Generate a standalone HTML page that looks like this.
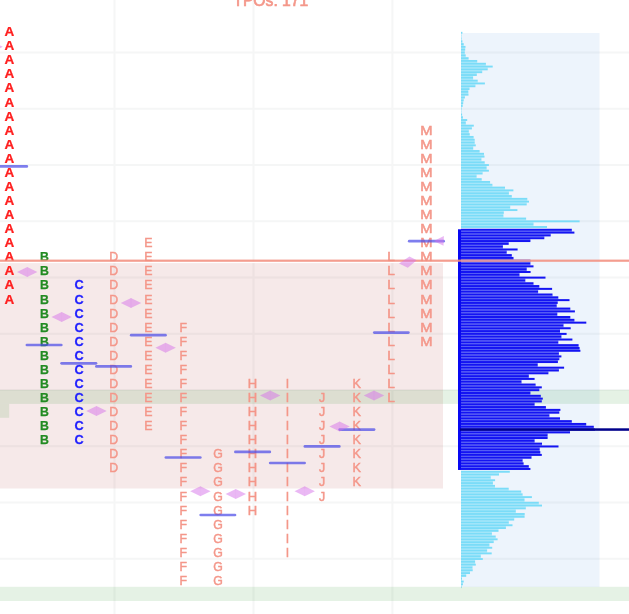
<!DOCTYPE html>
<html><head><meta charset="utf-8"><title>TPO profile</title>
<style>html,body{margin:0;padding:0;background:#fff;overflow:hidden}svg{display:block}text{font-family:"Liberation Sans",sans-serif;font-size:12.3px;text-anchor:middle}.b{font-weight:bold}</style></head><body>
<svg width="629" height="614" viewBox="0 0 629 614">
<rect width="629" height="614" fill="#fff"/>
<g stroke="#f5f6f6" stroke-width="2">
<line x1="0" x2="629" y1="52.6" y2="52.6"/>
<line x1="0" x2="629" y1="108.8" y2="108.8"/>
<line x1="0" x2="629" y1="165.1" y2="165.1"/>
<line x1="0" x2="629" y1="221.3" y2="221.3"/>
<line x1="0" x2="629" y1="277.6" y2="277.6"/>
<line x1="0" x2="629" y1="333.8" y2="333.8"/>
<line x1="0" x2="629" y1="390.0" y2="390.0"/>
<line x1="0" x2="629" y1="446.3" y2="446.3"/>
<line x1="0" x2="629" y1="502.5" y2="502.5"/>
<line x1="0" x2="629" y1="558.8" y2="558.8"/>
<line x1="0" x2="629" y1="615.0" y2="615.0"/>
<line x1="114.5" x2="114.5" y1="0" y2="614"/>
<line x1="253.5" x2="253.5" y1="0" y2="614"/>
<line x1="392.4" x2="392.4" y1="0" y2="614"/>
</g>
<text x="270.8" y="5.7" style="font-size:15.7px" fill="#f4978a" stroke="#f4978a" stroke-width="0.7">TPOs: 171</text>
<rect x="0" y="263" width="443" height="225.5" fill="rgba(165,42,42,0.1)"/>
<rect x="461" y="33" width="138.5" height="554" fill="rgba(75,150,222,0.1)"/>
<rect x="0" y="389.9" width="629" height="14" fill="rgba(0,128,0,0.1)"/>
<rect x="0" y="403.9" width="9.2" height="13.9" fill="rgba(0,128,0,0.1)"/>
<g fill="#a9e8fa">
<rect x="461" y="33.60" width="0.4" height="1.21"/>
<rect x="461" y="36.41" width="0.4" height="1.21"/>
<rect x="461" y="39.23" width="0.6" height="1.21"/>
<rect x="461" y="42.04" width="1.4" height="1.21"/>
<rect x="461" y="44.86" width="2.7" height="1.21"/>
<rect x="461" y="47.67" width="4.2" height="1.21"/>
<rect x="461" y="50.48" width="3.8" height="1.21"/>
<rect x="461" y="53.30" width="3.8" height="1.21"/>
<rect x="461" y="56.11" width="4.7" height="1.21"/>
<rect x="461" y="58.93" width="7.6" height="1.21"/>
<rect x="461" y="61.74" width="16.2" height="1.21"/>
<rect x="461" y="64.55" width="24.9" height="1.21"/>
<rect x="461" y="67.37" width="26.7" height="1.21"/>
<rect x="461" y="70.18" width="21.2" height="1.21"/>
<rect x="461" y="73.00" width="15.8" height="1.21"/>
<rect x="461" y="75.81" width="12.1" height="1.21"/>
<rect x="461" y="78.62" width="12.1" height="1.21"/>
<rect x="461" y="81.44" width="16.7" height="1.21"/>
<rect x="461" y="84.25" width="14.4" height="1.21"/>
<rect x="461" y="87.07" width="8.5" height="1.21"/>
<rect x="461" y="89.88" width="7.3" height="1.21"/>
<rect x="461" y="92.69" width="7.3" height="1.21"/>
<rect x="461" y="95.51" width="3.9" height="1.21"/>
<rect x="461" y="98.32" width="2.7" height="1.21"/>
<rect x="461" y="101.14" width="2.2" height="1.21"/>
<rect x="461" y="103.95" width="1.7" height="1.21"/>
<rect x="461" y="106.76" width="0.6" height="1.21"/>
<rect x="461" y="109.58" width="0.4" height="1.21"/>
<rect x="461" y="112.39" width="0.4" height="1.21"/>
<rect x="461" y="115.21" width="1.1" height="1.21"/>
<rect x="461" y="118.02" width="1.9" height="1.21"/>
<rect x="461" y="120.83" width="4.8" height="1.21"/>
<rect x="461" y="123.65" width="4.8" height="1.21"/>
<rect x="461" y="126.46" width="10.9" height="1.21"/>
<rect x="461" y="129.28" width="7.8" height="1.21"/>
<rect x="461" y="132.09" width="7.8" height="1.21"/>
<rect x="461" y="134.90" width="8.7" height="1.21"/>
<rect x="461" y="137.72" width="12.6" height="1.21"/>
<rect x="461" y="140.53" width="13.7" height="1.21"/>
<rect x="461" y="143.35" width="13.7" height="1.21"/>
<rect x="461" y="146.16" width="12.2" height="1.21"/>
<rect x="461" y="148.97" width="12.2" height="1.21"/>
<rect x="461" y="151.79" width="18.6" height="1.21"/>
<rect x="461" y="154.60" width="23.0" height="1.21"/>
<rect x="461" y="157.42" width="20.4" height="1.21"/>
<rect x="461" y="160.23" width="20.4" height="1.21"/>
<rect x="461" y="163.04" width="23.7" height="1.21"/>
<rect x="461" y="165.86" width="25.6" height="1.21"/>
<rect x="461" y="168.67" width="25.6" height="1.21"/>
<rect x="461" y="171.49" width="21.6" height="1.21"/>
<rect x="461" y="174.30" width="15.6" height="1.21"/>
<rect x="461" y="177.11" width="15.6" height="1.21"/>
<rect x="461" y="179.93" width="20.7" height="1.21"/>
<rect x="461" y="182.74" width="29.1" height="1.21"/>
<rect x="461" y="185.56" width="31.4" height="1.21"/>
<rect x="461" y="188.37" width="44.0" height="1.21"/>
<rect x="461" y="191.18" width="47.9" height="1.21"/>
<rect x="461" y="194.00" width="47.9" height="1.21"/>
<rect x="461" y="196.81" width="50.8" height="1.21"/>
<rect x="461" y="199.63" width="66.3" height="1.21"/>
<rect x="461" y="202.44" width="65.7" height="1.21"/>
<rect x="461" y="205.25" width="49.2" height="1.21"/>
<rect x="461" y="208.07" width="49.2" height="1.21"/>
<rect x="461" y="210.88" width="42.8" height="1.21"/>
<rect x="461" y="213.70" width="42.4" height="1.21"/>
<rect x="461" y="216.51" width="42.4" height="1.21"/>
<rect x="461" y="219.32" width="65.1" height="1.21"/>
<rect x="461" y="222.14" width="72.5" height="1.21"/>
<rect x="461" y="224.95" width="72.5" height="1.21"/>
<rect x="461" y="472.58" width="38.0" height="1.21"/>
<rect x="461" y="475.40" width="29.7" height="1.21"/>
<rect x="461" y="478.21" width="29.7" height="1.21"/>
<rect x="461" y="481.03" width="31.9" height="1.21"/>
<rect x="461" y="483.84" width="31.9" height="1.21"/>
<rect x="461" y="486.65" width="34.0" height="1.21"/>
<rect x="461" y="489.47" width="47.7" height="1.21"/>
<rect x="461" y="492.28" width="60.2" height="1.21"/>
<rect x="461" y="495.10" width="61.6" height="1.21"/>
<rect x="461" y="497.91" width="63.5" height="1.21"/>
<rect x="461" y="500.72" width="63.5" height="1.21"/>
<rect x="461" y="503.54" width="77.8" height="1.21"/>
<rect x="461" y="506.35" width="64.8" height="1.21"/>
<rect x="461" y="509.17" width="54.8" height="1.21"/>
<rect x="461" y="511.98" width="54.8" height="1.21"/>
<rect x="461" y="514.79" width="63.6" height="1.21"/>
<rect x="461" y="517.61" width="53.2" height="1.21"/>
<rect x="461" y="520.42" width="47.8" height="1.21"/>
<rect x="461" y="523.24" width="47.8" height="1.21"/>
<rect x="461" y="526.05" width="44.9" height="1.21"/>
<rect x="461" y="528.86" width="37.5" height="1.21"/>
<rect x="461" y="531.68" width="30.9" height="1.21"/>
<rect x="461" y="534.49" width="30.9" height="1.21"/>
<rect x="461" y="537.31" width="34.7" height="1.21"/>
<rect x="461" y="540.12" width="32.7" height="1.21"/>
<rect x="461" y="542.93" width="28.4" height="1.21"/>
<rect x="461" y="545.75" width="28.4" height="1.21"/>
<rect x="461" y="548.56" width="26.1" height="1.21"/>
<rect x="461" y="551.38" width="26.1" height="1.21"/>
<rect x="461" y="554.19" width="19.8" height="1.21"/>
<rect x="461" y="557.00" width="19.8" height="1.21"/>
<rect x="461" y="559.82" width="14.1" height="1.21"/>
<rect x="461" y="562.63" width="14.1" height="1.21"/>
<rect x="461" y="565.45" width="11.5" height="1.21"/>
<rect x="461" y="568.26" width="11.5" height="1.21"/>
<rect x="461" y="571.07" width="9.0" height="1.21"/>
<rect x="461" y="573.89" width="5.2" height="1.21"/>
<rect x="461" y="576.70" width="1.0" height="1.21"/>
<rect x="461" y="579.52" width="1.0" height="1.21"/>
<rect x="461" y="582.33" width="1.9" height="1.21"/>
<rect x="461" y="585.14" width="0.6" height="1.21"/>
</g>
<g fill="#7adcf8">
<rect x="461" y="31.85" width="1.4" height="1.9"/>
<rect x="461" y="34.66" width="0.4" height="1.9"/>
<rect x="461" y="37.48" width="0.6" height="1.9"/>
<rect x="461" y="40.29" width="1.4" height="1.9"/>
<rect x="461" y="43.11" width="2.7" height="1.9"/>
<rect x="461" y="45.92" width="4.5" height="1.9"/>
<rect x="461" y="48.73" width="4.2" height="1.9"/>
<rect x="461" y="51.55" width="3.8" height="1.9"/>
<rect x="461" y="54.36" width="4.7" height="1.9"/>
<rect x="461" y="57.18" width="7.6" height="1.9"/>
<rect x="461" y="59.99" width="16.2" height="1.9"/>
<rect x="461" y="62.80" width="24.9" height="1.9"/>
<rect x="461" y="65.62" width="31.7" height="1.9"/>
<rect x="461" y="68.43" width="26.7" height="1.9"/>
<rect x="461" y="71.25" width="21.2" height="1.9"/>
<rect x="461" y="74.06" width="15.8" height="1.9"/>
<rect x="461" y="76.87" width="12.1" height="1.9"/>
<rect x="461" y="79.69" width="16.7" height="1.9"/>
<rect x="461" y="82.50" width="23.9" height="1.9"/>
<rect x="461" y="85.32" width="14.4" height="1.9"/>
<rect x="461" y="88.13" width="8.5" height="1.9"/>
<rect x="461" y="90.94" width="7.3" height="1.9"/>
<rect x="461" y="93.76" width="7.5" height="1.9"/>
<rect x="461" y="96.57" width="3.9" height="1.9"/>
<rect x="461" y="99.39" width="2.7" height="1.9"/>
<rect x="461" y="102.20" width="2.2" height="1.9"/>
<rect x="461" y="105.01" width="1.7" height="1.9"/>
<rect x="461" y="107.83" width="0.6" height="1.9"/>
<rect x="461" y="110.64" width="0.4" height="1.9"/>
<rect x="461" y="113.46" width="1.1" height="1.9"/>
<rect x="461" y="116.27" width="1.9" height="1.9"/>
<rect x="461" y="119.08" width="6.2" height="1.9"/>
<rect x="461" y="121.90" width="4.8" height="1.9"/>
<rect x="461" y="124.71" width="12.8" height="1.9"/>
<rect x="461" y="127.53" width="10.9" height="1.9"/>
<rect x="461" y="130.34" width="7.8" height="1.9"/>
<rect x="461" y="133.15" width="8.7" height="1.9"/>
<rect x="461" y="135.97" width="12.6" height="1.9"/>
<rect x="461" y="138.78" width="13.7" height="1.9"/>
<rect x="461" y="141.60" width="13.7" height="1.9"/>
<rect x="461" y="144.41" width="14.8" height="1.9"/>
<rect x="461" y="147.22" width="12.2" height="1.9"/>
<rect x="461" y="150.04" width="18.6" height="1.9"/>
<rect x="461" y="152.85" width="23.0" height="1.9"/>
<rect x="461" y="155.67" width="23.5" height="1.9"/>
<rect x="461" y="158.48" width="20.4" height="1.9"/>
<rect x="461" y="161.29" width="23.7" height="1.9"/>
<rect x="461" y="164.11" width="27.9" height="1.9"/>
<rect x="461" y="166.92" width="25.6" height="1.9"/>
<rect x="461" y="169.74" width="27.9" height="1.9"/>
<rect x="461" y="172.55" width="21.6" height="1.9"/>
<rect x="461" y="175.36" width="15.6" height="1.9"/>
<rect x="461" y="178.18" width="20.7" height="1.9"/>
<rect x="461" y="180.99" width="29.1" height="1.9"/>
<rect x="461" y="183.81" width="31.4" height="1.9"/>
<rect x="461" y="186.62" width="44.0" height="1.9"/>
<rect x="461" y="189.43" width="52.4" height="1.9"/>
<rect x="461" y="192.25" width="47.9" height="1.9"/>
<rect x="461" y="195.06" width="50.8" height="1.9"/>
<rect x="461" y="197.88" width="66.3" height="1.9"/>
<rect x="461" y="200.69" width="68.0" height="1.9"/>
<rect x="461" y="203.50" width="65.7" height="1.9"/>
<rect x="461" y="206.32" width="49.2" height="1.9"/>
<rect x="461" y="209.13" width="56.4" height="1.9"/>
<rect x="461" y="211.95" width="42.8" height="1.9"/>
<rect x="461" y="214.76" width="42.4" height="1.9"/>
<rect x="461" y="217.57" width="65.1" height="1.9"/>
<rect x="461" y="220.39" width="118.6" height="1.9"/>
<rect x="461" y="223.20" width="72.5" height="1.9"/>
<rect x="461" y="226.02" width="86.0" height="1.9"/>
<rect x="461" y="470.83" width="48.8" height="1.9"/>
<rect x="461" y="473.65" width="38.0" height="1.9"/>
<rect x="461" y="476.46" width="29.7" height="1.9"/>
<rect x="461" y="479.28" width="34.1" height="1.9"/>
<rect x="461" y="482.09" width="31.9" height="1.9"/>
<rect x="461" y="484.90" width="34.0" height="1.9"/>
<rect x="461" y="487.72" width="47.7" height="1.9"/>
<rect x="461" y="490.53" width="60.2" height="1.9"/>
<rect x="461" y="493.35" width="61.6" height="1.9"/>
<rect x="461" y="496.16" width="70.9" height="1.9"/>
<rect x="461" y="498.97" width="63.5" height="1.9"/>
<rect x="461" y="501.79" width="77.8" height="1.9"/>
<rect x="461" y="504.60" width="81.0" height="1.9"/>
<rect x="461" y="507.42" width="64.8" height="1.9"/>
<rect x="461" y="510.23" width="54.8" height="1.9"/>
<rect x="461" y="513.04" width="63.7" height="1.9"/>
<rect x="461" y="515.86" width="63.6" height="1.9"/>
<rect x="461" y="518.67" width="53.2" height="1.9"/>
<rect x="461" y="521.49" width="47.8" height="1.9"/>
<rect x="461" y="524.30" width="51.5" height="1.9"/>
<rect x="461" y="527.11" width="44.9" height="1.9"/>
<rect x="461" y="529.93" width="37.5" height="1.9"/>
<rect x="461" y="532.74" width="30.9" height="1.9"/>
<rect x="461" y="535.56" width="34.7" height="1.9"/>
<rect x="461" y="538.37" width="36.6" height="1.9"/>
<rect x="461" y="541.18" width="32.7" height="1.9"/>
<rect x="461" y="544.00" width="28.4" height="1.9"/>
<rect x="461" y="546.81" width="31.2" height="1.9"/>
<rect x="461" y="549.63" width="26.1" height="1.9"/>
<rect x="461" y="552.44" width="30.7" height="1.9"/>
<rect x="461" y="555.25" width="19.8" height="1.9"/>
<rect x="461" y="558.07" width="21.8" height="1.9"/>
<rect x="461" y="560.88" width="14.1" height="1.9"/>
<rect x="461" y="563.70" width="14.8" height="1.9"/>
<rect x="461" y="566.51" width="11.5" height="1.9"/>
<rect x="461" y="569.32" width="11.7" height="1.9"/>
<rect x="461" y="572.14" width="9.0" height="1.9"/>
<rect x="461" y="574.95" width="5.2" height="1.9"/>
<rect x="461" y="577.77" width="1.0" height="1.9"/>
<rect x="461" y="580.58" width="2.7" height="1.9"/>
<rect x="461" y="583.39" width="1.9" height="1.9"/>
<rect x="461" y="586.21" width="0.6" height="1.9"/>
</g>
<rect x="458" y="229.28" width="3.1" height="240.69" fill="#0808f2"/>
<g fill="#6470f6">
<rect x="461" y="230.58" width="110.8" height="1.21"/>
<rect x="461" y="233.39" width="89.7" height="1.21"/>
<rect x="461" y="236.21" width="83.3" height="1.21"/>
<rect x="461" y="239.02" width="69.4" height="1.21"/>
<rect x="461" y="241.84" width="47.7" height="1.21"/>
<rect x="461" y="244.65" width="41.9" height="1.21"/>
<rect x="461" y="247.46" width="41.9" height="1.21"/>
<rect x="461" y="250.28" width="45.7" height="1.21"/>
<rect x="461" y="253.09" width="45.7" height="1.21"/>
<rect x="461" y="255.91" width="50.8" height="1.21"/>
<rect x="461" y="258.72" width="52.5" height="1.21"/>
<rect x="461" y="261.53" width="69.4" height="1.21"/>
<rect x="461" y="264.35" width="69.4" height="1.21"/>
<rect x="461" y="267.16" width="65.7" height="1.21"/>
<rect x="461" y="269.98" width="65.7" height="1.21"/>
<rect x="461" y="272.79" width="58.5" height="1.21"/>
<rect x="461" y="275.60" width="58.5" height="1.21"/>
<rect x="461" y="278.42" width="64.3" height="1.21"/>
<rect x="461" y="281.23" width="64.3" height="1.21"/>
<rect x="461" y="284.05" width="72.5" height="1.21"/>
<rect x="461" y="286.86" width="78.3" height="1.21"/>
<rect x="461" y="289.67" width="77.1" height="1.21"/>
<rect x="461" y="292.49" width="77.1" height="1.21"/>
<rect x="461" y="295.30" width="91.5" height="1.21"/>
<rect x="461" y="298.12" width="97.3" height="1.21"/>
<rect x="461" y="300.93" width="96.7" height="1.21"/>
<rect x="461" y="303.74" width="95.7" height="1.21"/>
<rect x="461" y="306.56" width="95.7" height="1.21"/>
<rect x="461" y="309.37" width="109.3" height="1.21"/>
<rect x="461" y="312.19" width="96.3" height="1.21"/>
<rect x="461" y="315.00" width="96.3" height="1.21"/>
<rect x="461" y="317.81" width="109.3" height="1.21"/>
<rect x="461" y="320.63" width="113.4" height="1.21"/>
<rect x="461" y="323.44" width="102.5" height="1.21"/>
<rect x="461" y="326.26" width="102.5" height="1.21"/>
<rect x="461" y="329.07" width="99.0" height="1.21"/>
<rect x="461" y="331.88" width="99.0" height="1.21"/>
<rect x="461" y="334.70" width="100.4" height="1.21"/>
<rect x="461" y="337.51" width="100.4" height="1.21"/>
<rect x="461" y="340.33" width="97.3" height="1.21"/>
<rect x="461" y="343.14" width="97.3" height="1.21"/>
<rect x="461" y="345.95" width="117.6" height="1.21"/>
<rect x="461" y="348.77" width="118.6" height="1.21"/>
<rect x="461" y="351.58" width="97.9" height="1.21"/>
<rect x="461" y="354.40" width="97.9" height="1.21"/>
<rect x="461" y="357.21" width="98.3" height="1.21"/>
<rect x="461" y="360.02" width="96.9" height="1.21"/>
<rect x="461" y="362.84" width="76.7" height="1.21"/>
<rect x="461" y="365.65" width="76.7" height="1.21"/>
<rect x="461" y="368.47" width="97.9" height="1.21"/>
<rect x="461" y="371.28" width="87.4" height="1.21"/>
<rect x="461" y="374.09" width="67.8" height="1.21"/>
<rect x="461" y="376.91" width="67.8" height="1.21"/>
<rect x="461" y="379.72" width="60.5" height="1.21"/>
<rect x="461" y="382.54" width="60.5" height="1.21"/>
<rect x="461" y="385.35" width="74.6" height="1.21"/>
<rect x="461" y="388.16" width="78.3" height="1.21"/>
<rect x="461" y="390.98" width="69.4" height="1.21"/>
<rect x="461" y="393.79" width="69.4" height="1.21"/>
<rect x="461" y="396.61" width="79.8" height="1.21"/>
<rect x="461" y="399.42" width="80.8" height="1.21"/>
<rect x="461" y="402.23" width="73.6" height="1.21"/>
<rect x="461" y="405.05" width="73.6" height="1.21"/>
<rect x="461" y="407.86" width="84.9" height="1.21"/>
<rect x="461" y="410.68" width="98.3" height="1.21"/>
<rect x="461" y="413.49" width="88.4" height="1.21"/>
<rect x="461" y="416.30" width="88.4" height="1.21"/>
<rect x="461" y="419.12" width="99.0" height="1.21"/>
<rect x="461" y="421.93" width="110.8" height="1.21"/>
<rect x="461" y="424.75" width="125.2" height="1.21"/>
<rect x="461" y="427.56" width="132.8" height="1.21"/>
<rect x="461" y="430.37" width="109.0" height="1.21"/>
<rect x="461" y="433.19" width="86.6" height="1.21"/>
<rect x="461" y="436.00" width="86.6" height="1.21"/>
<rect x="461" y="438.82" width="73.6" height="1.21"/>
<rect x="461" y="441.63" width="73.6" height="1.21"/>
<rect x="461" y="444.44" width="81.0" height="1.21"/>
<rect x="461" y="447.26" width="78.7" height="1.21"/>
<rect x="461" y="450.07" width="78.7" height="1.21"/>
<rect x="461" y="452.89" width="79.3" height="1.21"/>
<rect x="461" y="455.70" width="70.5" height="1.21"/>
<rect x="461" y="458.51" width="61.6" height="1.21"/>
<rect x="461" y="461.33" width="61.6" height="1.21"/>
<rect x="461" y="464.14" width="62.6" height="1.21"/>
<rect x="461" y="466.96" width="67.8" height="1.21"/>
</g>
<g fill="#1414f2">
<rect x="461" y="228.78" width="110.8" height="2.0"/>
<rect x="461" y="231.59" width="113.4" height="2.0"/>
<rect x="461" y="234.41" width="89.7" height="2.0"/>
<rect x="461" y="237.22" width="83.3" height="2.0"/>
<rect x="461" y="240.04" width="69.4" height="2.0"/>
<rect x="461" y="242.85" width="47.7" height="2.0"/>
<rect x="461" y="245.66" width="41.9" height="2.0"/>
<rect x="461" y="248.48" width="56.6" height="2.0"/>
<rect x="461" y="251.29" width="45.7" height="2.0"/>
<rect x="461" y="254.11" width="50.8" height="2.0"/>
<rect x="461" y="256.92" width="52.5" height="2.0"/>
<rect x="461" y="259.73" width="69.4" height="2.0"/>
<rect x="461" y="262.55" width="69.4" height="2.0"/>
<rect x="461" y="265.36" width="72.5" height="2.0"/>
<rect x="461" y="268.18" width="65.7" height="2.0"/>
<rect x="461" y="270.99" width="69.6" height="2.0"/>
<rect x="461" y="273.80" width="58.5" height="2.0"/>
<rect x="461" y="276.62" width="84.5" height="2.0"/>
<rect x="461" y="279.43" width="64.3" height="2.0"/>
<rect x="461" y="282.25" width="72.5" height="2.0"/>
<rect x="461" y="285.06" width="78.3" height="2.0"/>
<rect x="461" y="287.87" width="91.1" height="2.0"/>
<rect x="461" y="290.69" width="77.1" height="2.0"/>
<rect x="461" y="293.50" width="91.5" height="2.0"/>
<rect x="461" y="296.32" width="97.3" height="2.0"/>
<rect x="461" y="299.13" width="108.5" height="2.0"/>
<rect x="461" y="301.94" width="96.7" height="2.0"/>
<rect x="461" y="304.76" width="95.7" height="2.0"/>
<rect x="461" y="307.57" width="109.3" height="2.0"/>
<rect x="461" y="310.39" width="113.9" height="2.0"/>
<rect x="461" y="313.20" width="96.3" height="2.0"/>
<rect x="461" y="316.01" width="109.3" height="2.0"/>
<rect x="461" y="318.83" width="113.4" height="2.0"/>
<rect x="461" y="321.64" width="125.3" height="2.0"/>
<rect x="461" y="324.46" width="102.5" height="2.0"/>
<rect x="461" y="327.27" width="109.7" height="2.0"/>
<rect x="461" y="330.08" width="99.0" height="2.0"/>
<rect x="461" y="332.90" width="105.6" height="2.0"/>
<rect x="461" y="335.71" width="100.4" height="2.0"/>
<rect x="461" y="338.53" width="111.4" height="2.0"/>
<rect x="461" y="341.34" width="97.3" height="2.0"/>
<rect x="461" y="344.15" width="117.6" height="2.0"/>
<rect x="461" y="346.97" width="118.6" height="2.0"/>
<rect x="461" y="349.78" width="119.4" height="2.0"/>
<rect x="461" y="352.60" width="97.9" height="2.0"/>
<rect x="461" y="355.41" width="100.4" height="2.0"/>
<rect x="461" y="358.22" width="98.3" height="2.0"/>
<rect x="461" y="361.04" width="96.9" height="2.0"/>
<rect x="461" y="363.85" width="76.7" height="2.0"/>
<rect x="461" y="366.67" width="103.1" height="2.0"/>
<rect x="461" y="369.48" width="97.9" height="2.0"/>
<rect x="461" y="372.29" width="87.4" height="2.0"/>
<rect x="461" y="375.11" width="67.8" height="2.0"/>
<rect x="461" y="377.92" width="73.6" height="2.0"/>
<rect x="461" y="380.74" width="60.5" height="2.0"/>
<rect x="461" y="383.55" width="74.6" height="2.0"/>
<rect x="461" y="386.36" width="80.8" height="2.0"/>
<rect x="461" y="389.18" width="78.3" height="2.0"/>
<rect x="461" y="391.99" width="69.4" height="2.0"/>
<rect x="461" y="394.81" width="79.8" height="2.0"/>
<rect x="461" y="397.62" width="81.8" height="2.0"/>
<rect x="461" y="400.43" width="80.8" height="2.0"/>
<rect x="461" y="403.25" width="73.6" height="2.0"/>
<rect x="461" y="406.06" width="84.9" height="2.0"/>
<rect x="461" y="408.88" width="99.4" height="2.0"/>
<rect x="461" y="411.69" width="98.3" height="2.0"/>
<rect x="461" y="414.50" width="88.4" height="2.0"/>
<rect x="461" y="417.32" width="99.0" height="2.0"/>
<rect x="461" y="420.13" width="110.8" height="2.0"/>
<rect x="461" y="422.95" width="125.2" height="2.0"/>
<rect x="461" y="425.76" width="132.8" height="2.0"/>
<rect x="461" y="428.57" width="134.0" height="2.0"/>
<rect x="461" y="431.39" width="109.0" height="2.0"/>
<rect x="461" y="434.20" width="86.6" height="2.0"/>
<rect x="461" y="437.02" width="86.6" height="2.0"/>
<rect x="461" y="439.83" width="73.6" height="2.0"/>
<rect x="461" y="442.64" width="81.0" height="2.0"/>
<rect x="461" y="445.46" width="97.5" height="2.0"/>
<rect x="461" y="448.27" width="78.7" height="2.0"/>
<rect x="461" y="451.09" width="79.3" height="2.0"/>
<rect x="461" y="453.90" width="80.8" height="2.0"/>
<rect x="461" y="456.71" width="70.5" height="2.0"/>
<rect x="461" y="459.53" width="61.6" height="2.0"/>
<rect x="461" y="462.34" width="62.6" height="2.0"/>
<rect x="461" y="465.16" width="67.8" height="2.0"/>
<rect x="461" y="467.97" width="69.4" height="2.0"/>
</g>
<rect x="460" y="428.3" width="169" height="2.5" fill="#00008b"/>
<rect x="0" y="586.8" width="629" height="14.2" fill="rgba(0,128,0,0.1)"/>
<g fill="#ff1e1e" class="b" stroke="#ff1e1e" stroke-width="0.25" transform="translate(9.40,0) scale(1.1,1)">
<text x="0" y="36.20">A</text>
<text x="0" y="50.27">A</text>
<text x="0" y="64.34">A</text>
<text x="0" y="78.41">A</text>
<text x="0" y="92.48">A</text>
<text x="0" y="106.55">A</text>
<text x="0" y="120.62">A</text>
<text x="0" y="134.69">A</text>
<text x="0" y="148.76">A</text>
<text x="0" y="162.83">A</text>
<text x="0" y="176.90">A</text>
<text x="0" y="190.97">A</text>
<text x="0" y="205.04">A</text>
<text x="0" y="219.11">A</text>
<text x="0" y="233.18">A</text>
<text x="0" y="247.25">A</text>
<text x="0" y="261.32">A</text>
<text x="0" y="275.39">A</text>
<text x="0" y="289.46">A</text>
<text x="0" y="303.53">A</text>
</g>
<g fill="#228b22" class="b" stroke="#228b22" stroke-width="0.25" transform="translate(44.50,0) scale(1.0,1)">
<text x="0" y="261.32">B</text>
<text x="0" y="275.39">B</text>
<text x="0" y="289.46">B</text>
<text x="0" y="303.53">B</text>
<text x="0" y="317.60">B</text>
<text x="0" y="331.67">B</text>
<text x="0" y="345.74">B</text>
<text x="0" y="359.81">B</text>
<text x="0" y="373.88">B</text>
<text x="0" y="387.95">B</text>
<text x="0" y="402.02">B</text>
<text x="0" y="416.09">B</text>
<text x="0" y="430.16">B</text>
<text x="0" y="444.23">B</text>
</g>
<g fill="#1f1fff" class="b" stroke="#1f1fff" stroke-width="0.25" transform="translate(79.05,0) scale(1.04,1)">
<text x="0" y="289.46">C</text>
<text x="0" y="303.53">C</text>
<text x="0" y="317.60">C</text>
<text x="0" y="331.67">C</text>
<text x="0" y="345.74">C</text>
<text x="0" y="359.81">C</text>
<text x="0" y="373.88">C</text>
<text x="0" y="387.95">C</text>
<text x="0" y="402.02">C</text>
<text x="0" y="416.09">C</text>
<text x="0" y="430.16">C</text>
<text x="0" y="444.23">C</text>
</g>
<g fill="#f4978a" stroke="#f4978a" stroke-width="0.45" transform="translate(113.70,0) scale(1.0,1)">
<text x="0" y="261.32">D</text>
<text x="0" y="275.39">D</text>
<text x="0" y="289.46">D</text>
<text x="0" y="303.53">D</text>
<text x="0" y="317.60">D</text>
<text x="0" y="331.67">D</text>
<text x="0" y="345.74">D</text>
<text x="0" y="359.81">D</text>
<text x="0" y="373.88">D</text>
<text x="0" y="387.95">D</text>
<text x="0" y="402.02">D</text>
<text x="0" y="416.09">D</text>
<text x="0" y="430.16">D</text>
<text x="0" y="444.23">D</text>
<text x="0" y="458.30">D</text>
<text x="0" y="472.37">D</text>
</g>
<g fill="#f4978a" stroke="#f4978a" stroke-width="0.45" transform="translate(148.45,0) scale(1.0,1)">
<text x="0" y="247.25">E</text>
<text x="0" y="261.32">E</text>
<text x="0" y="275.39">E</text>
<text x="0" y="289.46">E</text>
<text x="0" y="303.53">E</text>
<text x="0" y="317.60">E</text>
<text x="0" y="331.67">E</text>
<text x="0" y="345.74">E</text>
<text x="0" y="359.81">E</text>
<text x="0" y="373.88">E</text>
<text x="0" y="387.95">E</text>
<text x="0" y="402.02">E</text>
<text x="0" y="416.09">E</text>
<text x="0" y="430.16">E</text>
</g>
<g fill="#f4978a" stroke="#f4978a" stroke-width="0.45" transform="translate(183.20,0) scale(1.0,1)">
<text x="0" y="331.67">F</text>
<text x="0" y="345.74">F</text>
<text x="0" y="359.81">F</text>
<text x="0" y="373.88">F</text>
<text x="0" y="387.95">F</text>
<text x="0" y="402.02">F</text>
<text x="0" y="416.09">F</text>
<text x="0" y="430.16">F</text>
<text x="0" y="444.23">F</text>
<text x="0" y="458.30">F</text>
<text x="0" y="472.37">F</text>
<text x="0" y="486.44">F</text>
<text x="0" y="500.51">F</text>
<text x="0" y="514.58">F</text>
<text x="0" y="528.65">F</text>
<text x="0" y="542.72">F</text>
<text x="0" y="556.79">F</text>
<text x="0" y="570.86">F</text>
<text x="0" y="584.93">F</text>
</g>
<g fill="#f4978a" stroke="#f4978a" stroke-width="0.45" transform="translate(217.95,0) scale(1.0,1)">
<text x="0" y="458.30">G</text>
<text x="0" y="472.37">G</text>
<text x="0" y="486.44">G</text>
<text x="0" y="500.51">G</text>
<text x="0" y="514.58">G</text>
<text x="0" y="528.65">G</text>
<text x="0" y="542.72">G</text>
<text x="0" y="556.79">G</text>
<text x="0" y="570.86">G</text>
<text x="0" y="584.93">G</text>
</g>
<g fill="#f4978a" stroke="#f4978a" stroke-width="0.45" transform="translate(252.50,0) scale(1.06,1)">
<text x="0" y="387.95">H</text>
<text x="0" y="402.02">H</text>
<text x="0" y="416.09">H</text>
<text x="0" y="430.16">H</text>
<text x="0" y="444.23">H</text>
<text x="0" y="458.30">H</text>
<text x="0" y="472.37">H</text>
<text x="0" y="486.44">H</text>
<text x="0" y="500.51">H</text>
<text x="0" y="514.58">H</text>
</g>
<g fill="#f4978a" stroke="#f4978a" stroke-width="0.45" transform="translate(287.45,0) scale(1.0,1)">
<text x="0" y="387.95">I</text>
<text x="0" y="402.02">I</text>
<text x="0" y="416.09">I</text>
<text x="0" y="430.16">I</text>
<text x="0" y="444.23">I</text>
<text x="0" y="458.30">I</text>
<text x="0" y="472.37">I</text>
<text x="0" y="486.44">I</text>
<text x="0" y="500.51">I</text>
<text x="0" y="514.58">I</text>
<text x="0" y="528.65">I</text>
<text x="0" y="542.72">I</text>
<text x="0" y="556.79">I</text>
</g>
<g fill="#f4978a" stroke="#f4978a" stroke-width="0.45" transform="translate(322.20,0) scale(1.0,1)">
<text x="0" y="402.02">J</text>
<text x="0" y="416.09">J</text>
<text x="0" y="430.16">J</text>
<text x="0" y="444.23">J</text>
<text x="0" y="458.30">J</text>
<text x="0" y="472.37">J</text>
<text x="0" y="486.44">J</text>
<text x="0" y="500.51">J</text>
</g>
<g fill="#f4978a" stroke="#f4978a" stroke-width="0.45" transform="translate(356.65,0) scale(1.03,1)">
<text x="0" y="387.95">K</text>
<text x="0" y="402.02">K</text>
<text x="0" y="416.09">K</text>
<text x="0" y="430.16">K</text>
<text x="0" y="444.23">K</text>
<text x="0" y="458.30">K</text>
<text x="0" y="472.37">K</text>
<text x="0" y="486.44">K</text>
</g>
<g fill="#f4978a" stroke="#f4978a" stroke-width="0.45" transform="translate(391.00,0) scale(1.12,1)">
<text x="0" y="261.32">L</text>
<text x="0" y="275.39">L</text>
<text x="0" y="289.46">L</text>
<text x="0" y="303.53">L</text>
<text x="0" y="317.60">L</text>
<text x="0" y="331.67">L</text>
<text x="0" y="345.74">L</text>
<text x="0" y="359.81">L</text>
<text x="0" y="373.88">L</text>
<text x="0" y="387.95">L</text>
<text x="0" y="402.02">L</text>
</g>
<g fill="#f4978a" stroke="#f4978a" stroke-width="0.45" transform="translate(426.45,0) scale(1.2,1)">
<text x="0" y="134.69">M</text>
<text x="0" y="148.76">M</text>
<text x="0" y="162.83">M</text>
<text x="0" y="176.90">M</text>
<text x="0" y="190.97">M</text>
<text x="0" y="205.04">M</text>
<text x="0" y="219.11">M</text>
<text x="0" y="233.18">M</text>
<text x="0" y="247.25">M</text>
<text x="0" y="261.32">M</text>
<text x="0" y="275.39">M</text>
<text x="0" y="289.46">M</text>
<text x="0" y="303.53">M</text>
<text x="0" y="317.60">M</text>
<text x="0" y="331.67">M</text>
<text x="0" y="345.74">M</text>
</g>
<rect x="0" y="261.6" width="443" height="1.5" fill="#fff"/>
<rect x="0" y="259.6" width="629" height="2.2" fill="rgba(242,143,127,0.88)"/>
<rect x="461" y="259.8" width="69.4" height="2" fill="#d895a6"/>
<g stroke="rgba(76,76,232,0.72)" stroke-width="2.7" stroke-linecap="round">
<line x1="-5" x2="26.8" y1="166.4" y2="166.4"/>
<line x1="26.9" x2="61.3" y1="345.0" y2="345.0"/>
<line x1="61.6" x2="96.0" y1="363.3" y2="363.3"/>
<line x1="96.4" x2="130.8" y1="366.4" y2="366.4"/>
<line x1="131.2" x2="165.5" y1="335.2" y2="335.2"/>
<line x1="165.9" x2="200.3" y1="457.5" y2="457.5"/>
<line x1="200.7" x2="235.0" y1="515.0" y2="515.0"/>
<line x1="235.4" x2="269.8" y1="451.9" y2="451.9"/>
<line x1="270.2" x2="304.6" y1="463.0" y2="463.0"/>
<line x1="304.9" x2="339.3" y1="446.4" y2="446.4"/>
<line x1="339.7" x2="374.1" y1="429.6" y2="429.6"/>
<line x1="409.2" x2="443.6" y1="241.2" y2="241.2"/>
<line x1="374.3" x2="408.4" y1="332.6" y2="332.6"/>
</g>
<g fill="rgba(213,113,233,0.5)">
<polygon points="-17.6,46.8 -7.30,41.8 -7.30,51.8"/><polygon points="2.8,46.8 -7.50,41.8 -7.50,51.8"/>
<polygon points="17.0,272.0 27.30,267.0 27.30,277.0"/><polygon points="37.4,272.0 27.10,267.0 27.10,277.0"/>
<polygon points="51.5,317.0 61.80,312.0 61.80,322.0"/><polygon points="71.9,317.0 61.60,312.0 61.60,322.0"/>
<polygon points="86.3,411.0 96.60,406.0 96.60,416.0"/><polygon points="106.7,411.0 96.40,406.0 96.40,416.0"/>
<polygon points="120.8,303.0 131.10,298.0 131.10,308.0"/><polygon points="141.2,303.0 130.90,298.0 130.90,308.0"/>
<polygon points="155.4,347.7 165.70,342.7 165.70,352.7"/><polygon points="175.8,347.7 165.50,342.7 165.50,352.7"/>
<polygon points="190.2,491.3 200.50,486.3 200.50,496.3"/><polygon points="210.6,491.3 200.30,486.3 200.30,496.3"/>
<polygon points="225.6,494.0 235.90,489.0 235.90,499.0"/><polygon points="246.0,494.0 235.70,489.0 235.70,499.0"/>
<polygon points="260.0,395.6 270.30,390.6 270.30,400.6"/><polygon points="280.4,395.6 270.10,390.6 270.10,400.6"/>
<polygon points="294.5,491.3 304.80,486.3 304.80,496.3"/><polygon points="314.9,491.3 304.60,486.3 304.60,496.3"/>
<polygon points="329.4,426.5 339.70,421.5 339.70,431.5"/><polygon points="349.8,426.5 339.50,421.5 339.50,431.5"/>
<polygon points="363.8,395.4 374.10,390.4 374.10,400.4"/><polygon points="384.2,395.4 373.90,390.4 373.90,400.4"/>
<polygon points="399,263.5 409.5,256.5 416.7,260.3 407.8,267.8"/>
<polygon points="433.9,241.1 443.9,236.1 443.5,245.8"/>
</g>
</svg></body></html>
